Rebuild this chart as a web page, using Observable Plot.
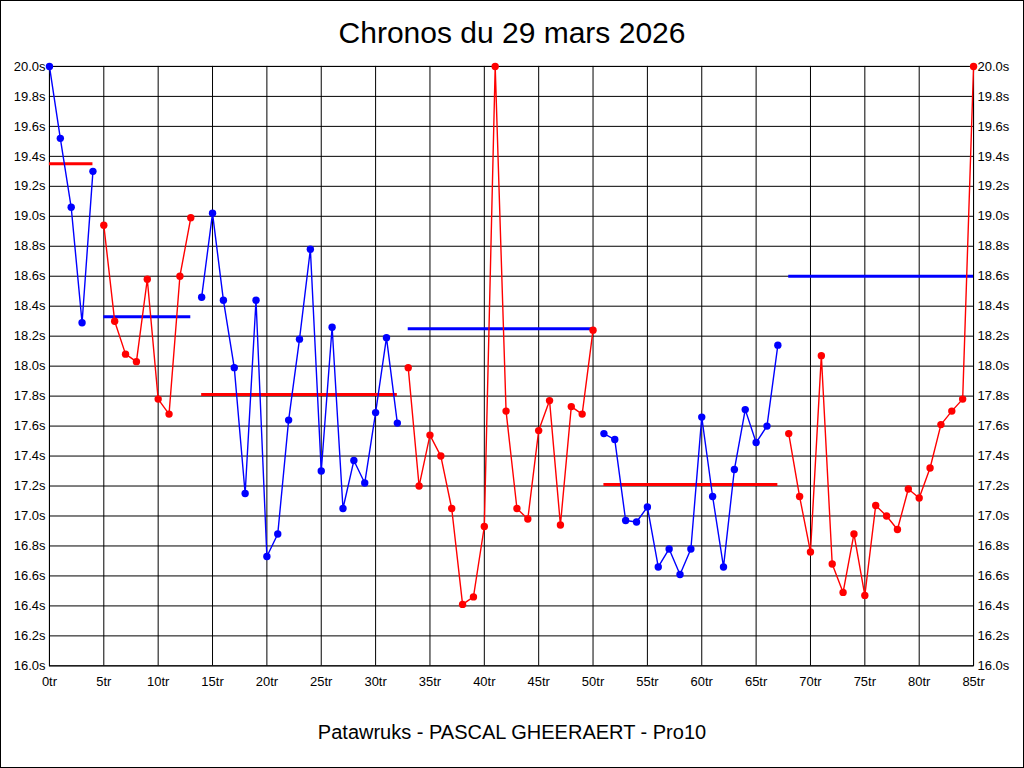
<!DOCTYPE html>
<html>
<head>
<meta charset="utf-8">
<script src="https://cdn.jsdelivr.net/npm/d3@7"></script>
<script src="https://cdn.jsdelivr.net/npm/@observablehq/plot@0.6"></script>
<style>
  html, body { margin: 0; padding: 0; background: white; }
  #wrap { position: relative; width: 1024px; height: 768px; box-sizing: border-box; border: 1px solid black; overflow: hidden; background: white; }
  #title { position: absolute; left: 0; width: 1022px; top: 15px; text-align: center; font-family: "Liberation Sans", Arial, sans-serif; font-size: 30px; color: black; }
  #footer { position: absolute; left: 0; width: 1022px; top: 720px; text-align: center; font-family: "Liberation Sans", Arial, sans-serif; font-size: 20px; color: black; }
  #chart { position: absolute; left: -1px; top: -1px; }
</style>
</head>
<body>
<div id="wrap">
  <div id="chart"></div>
  <div id="title">Chronos du 29 mars 2026</div>
  <div id="footer">Patawruks - PASCAL GHEERAERT - Pro10</div>
</div>
<script>
// Lap times (seconds), lap 0..85 (values above 20.0 shown clipped at 20.0)
const laps = d3.range(0, 86);
const times = [
  20.00, 19.52, 19.06, 18.29, 19.30,
  18.94, 18.30, 18.08, 18.03, 18.58, 17.78, 17.68, 18.60, 18.99,
  18.46, 19.02, 18.44, 17.99, 17.15, 18.44, 16.73, 16.88, 17.64, 18.18, 18.78, 17.30, 18.26, 17.05, 17.37, 17.22, 17.69, 18.19, 17.62,
  17.99, 17.20, 17.54, 17.40, 17.05, 16.41, 16.46, 16.93, 20.00, 17.70, 17.05, 16.98, 17.57, 17.77, 16.94, 17.73, 17.68, 18.24,
  17.55, 17.51, 16.97, 16.96, 17.06, 16.66, 16.78, 16.61, 16.78, 17.66, 17.13, 16.66, 17.31, 17.71, 17.49, 17.60, 18.14,
  17.55, 17.13, 16.76, 18.07, 16.68, 16.49, 16.88, 16.47, 17.07, 17.00, 16.91, 17.18, 17.12, 17.32, 17.61, 17.70, 17.78, 20.00
];
// Stints
const segStart = [0, 5, 14, 33, 51, 68];
const segEnd   = [4, 13, 32, 50, 67, 85];
const segColor = ["#0000ff", "#ff0000", "#0000ff", "#ff0000", "#0000ff", "#ff0000"];
const meanValue = [19.35, 18.33, 17.81, 18.25, 17.21, 18.60];
const meanColor = ["#ff0000", "#0000ff", "#ff0000", "#0000ff", "#ff0000", "#0000ff"];
// Axis ticks
const xTicks = d3.range(0, 86, 5);
const yTicks = d3.range(0, 21).map(i => +(16 + i * 0.2).toFixed(1));

const points = laps.map((lap, i) => {
  const s = segStart.findIndex((st, k) => lap >= st && lap <= segEnd[k]);
  return {lap, time: times[i], seg: s, color: segColor[s]};
});
const means = meanValue.map((v, k) => ({x1: segStart[k], x2: segEnd[k], y: v, color: meanColor[k]}));

const yFmt = d => d.toFixed(1) + "s";

const chart = Plot.plot({
  width: 1024,
  height: 768,
  marginLeft: 49,
  marginRight: 50,
  marginTop: 66,
  marginBottom: 102,
  style: {fontFamily: "Liberation Sans, Arial, sans-serif", fontSize: "13px", background: "transparent", color: "black"},
  x: {domain: [0, 85], label: null},
  y: {domain: [16, 20], label: null},
  marks: [
    Plot.gridX(xTicks, {stroke: "black", strokeOpacity: 1, strokeWidth: 1}),
    Plot.gridY(yTicks, {stroke: "black", strokeOpacity: 1, strokeWidth: 1}),
    Plot.frame({stroke: "black", strokeWidth: 1}),
    Plot.axisX(xTicks, {tickSize: 0, tickPadding: 11, tickFormat: d => d + "tr", fontSize: 13}),
    Plot.axisY(yTicks, {anchor: "left", tickSize: 0, tickPadding: 4, tickFormat: yFmt, fontSize: 13}),
    Plot.axisY(yTicks, {anchor: "right", tickSize: 0, tickPadding: 4, tickFormat: yFmt, fontSize: 13}),
    Plot.ruleY(means, {x1: "x1", x2: "x2", y: "y", stroke: "color", strokeWidth: 3}),
    Plot.line(points, {x: "lap", y: "time", z: "seg", stroke: "color", strokeWidth: 1.4, curve: "linear"}),
    Plot.dot(points, {x: "lap", y: "time", fill: "color", r: 3.7, stroke: null})
  ]
});
document.getElementById("chart").appendChild(chart);
</script>
</body>
</html>
